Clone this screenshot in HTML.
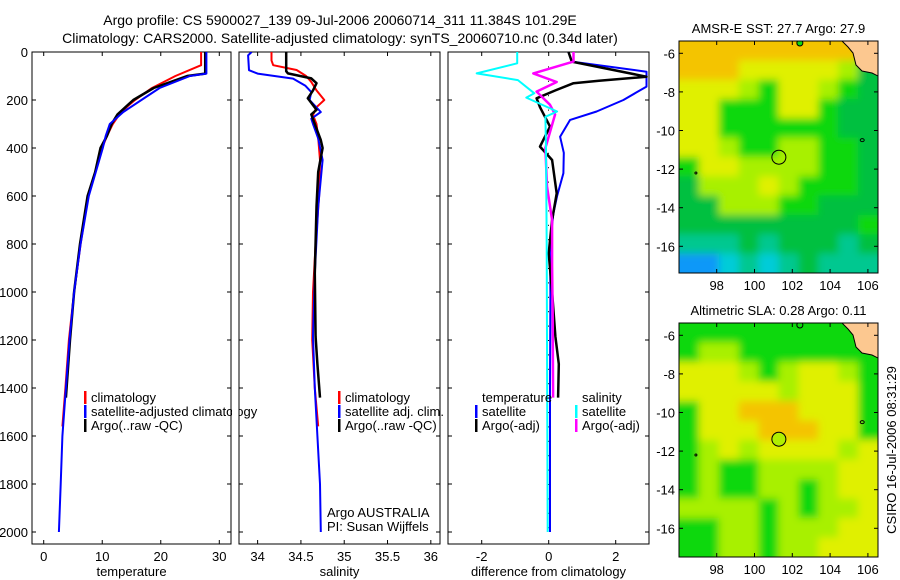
<!DOCTYPE html>
<html><head><meta charset="utf-8"><style>
html,body{margin:0;padding:0;background:#fff;}
svg{display:block;font-family:"Liberation Sans",sans-serif;}
</style></head><body>
<svg id="fig" width="900" height="580" viewBox="0 0 900 580" xmlns="http://www.w3.org/2000/svg">
<defs>
<clipPath id="cT"><rect x="32" y="52" width="199" height="492"/></clipPath>
<clipPath id="cS"><rect x="239" y="52" width="201" height="492"/></clipPath>
<clipPath id="cD"><rect x="448" y="52" width="201" height="492"/></clipPath>
<clipPath id="cM1"><rect x="679" y="41" width="199" height="232"/></clipPath>
<clipPath id="cM2"><rect x="679" y="323" width="199" height="234"/></clipPath>
<filter id="bl" x="-5%" y="-5%" width="110%" height="110%"><feGaussianBlur stdDeviation="4"/></filter>
</defs>
<text x="340" y="25" font-size="14" text-anchor="middle">Argo profile: CS 5900027_139 09-Jul-2006 20060714_311 11.384S 101.29E</text>
<text x="340" y="43" font-size="14" text-anchor="middle">Climatology: CARS2000. Satellite-adjusted climatology: synTS_20060710.nc (0.34d later)</text>
<g id="layer"></g>
</svg>
<script>
// ---- Temperature panel data ----
const climTempDepth = [0,55,100,150,200,250,300,350,400,500,600,800,1000,1200,1400,1560];
const climTemp = [26.9,26.9,22.5,18.5,15.6,13.2,11.8,10.8,10.0,8.8,7.6,6.3,5.2,4.3,3.7,3.2];
const satTempDepth = [0,90,100,150,200,250,300,350,400,500,600,800,1000,1200,1400,1600,1800,2000];
const satTemp = [27.8,27.8,25,19.8,16.7,13.6,11.3,10.6,10.1,8.9,7.7,6.3,5.2,4.4,3.8,3.2,2.9,2.6];
const argoTempDepth = [0,90,100,150,200,260,300,350,400,500,600,800,1000,1200,1440];
const argoTemp = [27.6,27.6,24.5,18.8,15.3,12.6,11.6,10.8,9.7,8.8,7.5,6.2,5.2,4.5,3.8];
// ---- Salinity panel data ----
const climSalDepth = [0,35,55,75,100,125,160,200,230,263,300,358,450,600,800,1000,1200,1400,1560];
const climSal = [34.16,34.16,34.18,34.45,34.56,34.62,34.68,34.77,34.68,34.64,34.68,34.70,34.72,34.71,34.67,34.64,34.63,34.66,34.70];
const satSalDepth = [0,14,76,90,111,140,167,200,250,278,300,360,450,644,922,1186,1400,1600,1800,2000];
const satSal = [33.93,33.89,33.9,34.0,34.41,34.55,34.62,34.6,34.73,34.62,34.64,34.70,34.75,34.70,34.66,34.64,34.66,34.69,34.72,34.73];
const argoSalDepth = [0,80,89,110,130,160,193,241,260,300,367,400,500,644,922,1186,1300,1440];
const argoSal = [34.33,34.33,34.35,34.62,34.68,34.64,34.58,34.68,34.62,34.66,34.73,34.75,34.70,34.68,34.66,34.67,34.69,34.72];
// ---- Difference panel data ----
const tSatDiffDepth = [0,40,82,144,170,200,248,283,353,420,505,600,672,800,1000,1400,2000];
const tSatDiff = [0.59,0.69,2.92,2.92,2.6,2.23,1.43,0.64,0.34,0.45,0.44,0.25,0.14,0.04,0.05,0.04,0.04];
const tArgoDiffDepth = [0,40,103,120,130,160,193,230,311,394,450,589,700,839,1000,1186,1300,1440];
const tArgoDiff = [0.59,0.69,2.92,1.5,0.74,0.2,-0.36,-0.26,0.04,-0.26,0.1,0.24,0.1,0.0,0.1,0.2,0.3,0.28];
const sSatDiffDepth = [0,47,89,117,172,190,248,270,400,800,1200,2000];
const sSatDiff = [-0.94,-0.94,-2.15,-0.92,-0.43,-0.67,0.25,-0.1,-0.08,-0.06,-0.05,-0.03];
const sArgoDiffDepth = [0,40,89,125,165,220,260,400,560,700,890,1100,1440];
const sArgoDiff = [0.74,0.74,-0.46,0.24,-0.36,0.04,0.19,-0.1,-0.05,0.1,0.1,0.12,0.13];
// ---- tick labels ----
const depthTicks = [0,200,400,600,800,1000,1200,1400,1600,1800,2000];
const tempTicks = [0,10,20,30];
const salTicks = [34,34.5,35,35.5,36];
const diffTicks = [-2,0,2];
const latTicks = [-6,-8,-10,-12,-14,-16];
const lonTicks = [98,100,102,104,106];
// ---- map fields (colour codes) ----
const sstRows = ["OOOOOOOOOL","OOOYYYYYLD","YYYLGYYLGD","YYGGGYYGDD","YYGGGGGGDD","YYLGGLLGGD","GYYLLLLGGD","DLLLYLGGGD","DDLLLGGDDD","DDDDDDDDDG","TTTDTDDDTD","BBCTCTDTTT"];
const slaRows = ["GGGGGGGGGG","GLLGGGGGGG","YYYLGLYYLG","YYYYYLYYYG","GYYOOOYYYG","GYYYOOOYYG","GLYLYYYYLY","GLGGLLLLYY","GLGGLLGLYY","LLLLGLGLLY","GGLLGLLLYY","GGLLGLLYYY"];
const palette = {O:"#f4c400",Y:"#e0f000",L:"#a8f000",G:"#10d810",D:"#00c040",T:"#00c890",C:"#00ccd8",B:"#1098f8"};
const floatLon = 101.29, floatLat = -11.384;

const NS="http://www.w3.org/2000/svg";
const layer=document.getElementById('layer');
function mk(tag,attrs,parent){const e=document.createElementNS(NS,tag);for(const k in attrs)e.setAttribute(k,attrs[k]);(parent||layer).appendChild(e);return e;}
const yD = d => 52 + d*0.24;
const xT = v => 32 + (v+2)*(199/34);
const xS = v => 239 + (v-33.785)*86.6;
const xD = v => 548.7 + v*33.5;

function panel(x0,x1,xf,ticks,fmt,label,name,showY){
  const r=mk('rect',{x:x0,y:52,width:x1-x0,height:492,fill:'none',stroke:'#000','stroke-width':1});
  
  
  depthTicks.forEach(d=>{
    mk('line',{x1:x0,x2:x0+4,y1:yD(d),y2:yD(d),stroke:'#000'});
    mk('line',{x1:x1-4,x2:x1,y1:yD(d),y2:yD(d),stroke:'#000'});
    if(showY){const t=mk('text',{x:x0-4,y:yD(d)+5,'font-size':13,'text-anchor':'end'});t.textContent=d;
      
      }
  });
  ticks.forEach(v=>{
    mk('line',{x1:xf(v),x2:xf(v),y1:544,y2:540,stroke:'#000'});
    mk('line',{x1:xf(v),x2:xf(v),y1:52,y2:56,stroke:'#000'});
    const t=mk('text',{x:xf(v),y:561,'font-size':13,'text-anchor':'middle'});t.textContent=fmt(v);
    
    
  });
  const l=mk('text',{x:(x0+x1)/2,y:576,'font-size':13,'text-anchor':'middle'});l.textContent=label;
  
  
}
panel(32,231,xT,tempTicks,v=>v,'temperature','temperature-panel',true);
panel(239,440,xS,salTicks,v=>v,'salinity','salinity-panel',false);
panel(448,649,xD,diffTicks,v=>v,'difference from climatology','difference-panel',false);
for(let d=0; d<=2000; d+=60){mk('rect',{x:548,y:yD(d),width:1,height:1,fill:'#000'});}

function series(depths,vals,xf,color,w,clip,name,dash){
  const pts=depths.map((d,i)=>xf(vals[i]).toFixed(1)+','+yD(d).toFixed(1)).join(' ');
  const p=mk('polyline',{points:pts,fill:'none',stroke:color,'stroke-width':w,'clip-path':'url(#'+clip+')','stroke-linejoin':'round'});
  if(dash)p.setAttribute('stroke-dasharray',dash);
  
  
}
series(climTempDepth,climTemp,xT,'#f00',2,'cT','temp-climatology-line');
series(argoTempDepth,argoTemp,xT,'#000',2.5,'cT','temp-argo-line');
series(satTempDepth,satTemp,xT,'#00f',2,'cT','temp-satellite-line');
series(climSalDepth,climSal,xS,'#f00',2,'cS','sal-climatology-line');
series(satSalDepth,satSal,xS,'#00f',2,'cS','sal-satellite-line');
series(argoSalDepth,argoSal,xS,'#000',2.5,'cS','sal-argo-line');
series(tSatDiffDepth,tSatDiff,xD,'#00f',2,'cD','diff-temp-satellite-line');
series(tArgoDiffDepth,tArgoDiff,xD,'#000',2.5,'cD','diff-temp-argo-line');
series(sArgoDiffDepth,sArgoDiff,xD,'#f0f',2.5,'cD','diff-sal-argo-line');
series(sSatDiffDepth,sSatDiff,xD,'#0ff',2,'cD','diff-sal-satellite-line');

function legend(x,y,color,text,name){
  if(color){const m=mk('rect',{x:x-7,y:y-11,width:2.5,height:13,fill:color});
    
    }
  const t=mk('text',{x:x,y:y,'font-size':13});t.textContent=text;
  
  
}
legend(91,402,'#f00','climatology','legend-temp-climatology');
legend(91,416,'#00f','satellite-adjusted climatology','legend-temp-satellite');
legend(91,430,'#000','Argo(..raw -QC)','legend-temp-argo');
legend(345,402,'#f00','climatology','legend-sal-climatology');
legend(345,416,'#00f','satellite adj. clim.','legend-sal-satellite');
legend(345,430,'#000','Argo(..raw -QC)','legend-sal-argo');
legend(482,402,null,'temperature','legend-diff-temperature-header');
legend(482,416,'#00f','satellite','legend-diff-temp-satellite');
legend(482,430,'#000','Argo(-adj)','legend-diff-temp-argo');
legend(582,402,null,'salinity','legend-diff-salinity-header');
legend(582,416,'#0ff','satellite','legend-diff-sal-satellite');
legend(582,430,'#f0f','Argo(-adj)','legend-diff-sal-argo');
legend(327,517,null,'Argo AUSTRALIA','credit-argo-australia');
legend(327,531,null,'PI: Susan Wijffels','credit-pi');

mk('rect',{x:232,y:404,width:6.5,height:16,fill:'#fff'});
mk('line',{x1:239,x2:239,y1:52,y2:544,stroke:'#000'});

function map(top,h,rows,title,name,clip,circleFill){
  const x0=679,w=199;
  const g=mk('g',{'clip-path':'url(#'+clip+')'});
  
  
  const gb=mk('g',{filter:'url(#bl)'},g);
  const nr=rows.length, nc=rows[0].length, cw=w/nc, ch=h/nr;
  mk('rect',{x:x0-10,y:top-10,width:w+20,height:h+20,fill:palette[rows[0][0]]},gb);
  rows.forEach((r,i)=>{for(let j=0;j<nc;j++){
    const c=mk('rect',{x:x0+j*cw-(j==0?10:0),y:top+i*ch-(i==0?10:0),width:cw+(j==0||j==nc-1?10:0)+0.5,height:ch+(i==0||i==nr-1?10:0)+0.5,fill:palette[r[j]]},gb);
    
    
  }});
  const lonX=v=>716.7+(v-98)*18.9;
  const latY=v=>top+12.3+(-6-v)*19.3;
  const land=mk('polygon',{points:`842,${top} 878,${top} 878,${top+35} 872,${top+32} 862,${top+30} 856,${top+24} 853,${top+12} 848,${top+6}`,fill:'#fcc890',stroke:'#000','stroke-width':1},g);
  
  
  mk('ellipse',{cx:lonX(102.4),cy:top+2,rx:3,ry:3,fill:'#10d810',stroke:'#000'},g);
  mk('ellipse',{cx:lonX(105.7),cy:latY(-10.5),rx:2,ry:1.5,fill:'none',stroke:'#000'},g);
  mk('ellipse',{cx:lonX(96.9),cy:latY(-12.2),rx:1,ry:1,fill:'none',stroke:'#000'},g);
  const c=mk('circle',{cx:lonX(floatLon),cy:latY(floatLat),r:7,fill:circleFill,stroke:'#000'},g);
  
  
  mk('rect',{x:x0,y:top,width:w,height:h,fill:'none',stroke:'#000'});
  latTicks.forEach(v=>{
    mk('line',{x1:x0,x2:x0+4,y1:latY(v),y2:latY(v),stroke:'#000'});
    mk('line',{x1:x0+w-4,x2:x0+w,y1:latY(v),y2:latY(v),stroke:'#000'});
    const t=mk('text',{x:x0-4,y:latY(v)+5,'font-size':13,'text-anchor':'end'});t.textContent=v;
    
    
  });
  lonTicks.forEach(v=>{
    mk('line',{x1:lonX(v),x2:lonX(v),y1:top,y2:top+4,stroke:'#000'});
    mk('line',{x1:lonX(v),x2:lonX(v),y1:top+h-4,y2:top+h,stroke:'#000'});
    const t=mk('text',{x:lonX(v),y:top+h+17,'font-size':13,'text-anchor':'middle'});t.textContent=v;
    
    
  });
  const t=mk('text',{x:x0+w/2,y:top-8,'font-size':13,'text-anchor':'middle'});t.textContent=title;
  
  
}
map(41,232,sstRows,'AMSR-E SST: 27.7 Argo: 27.9','sst-map','cM1','none');
map(323,234,slaRows,'Altimetric SLA: 0.28 Argo: 0.11','sla-map','cM2','#b0f000');
const st=mk('text',{x:896,y:450,'font-size':13,'text-anchor':'middle',transform:'rotate(-90 896 450)'});
st.textContent='CSIRO 16-Jul-2006 08:31:29';


</script>
</body></html>
